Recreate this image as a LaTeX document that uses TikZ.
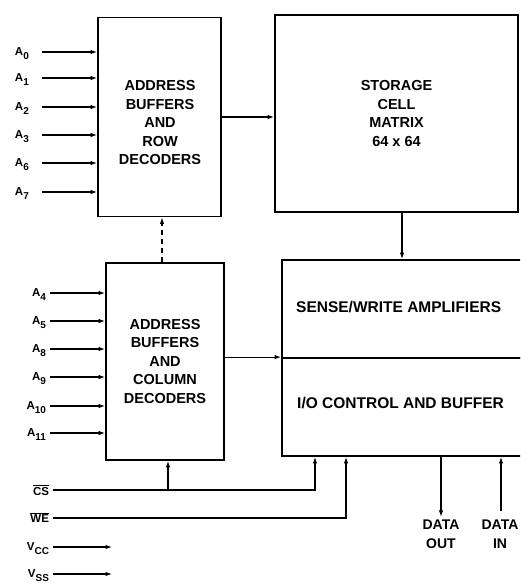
\documentclass[tikz,border=0pt]{standalone}
\usepackage{fontspec}
\setmainfont{Liberation Sans}
\usetikzlibrary{arrows.meta}
\newcommand\sigsub[2]{#1\raisebox{-3.5pt}{\fontsize{10}{10}\selectfont\bfseries #2}}
\begin{document}
\begin{tikzpicture}[x=1pt,y=-1pt,
  blk/.style={draw, line width=1.8pt, inner sep=0pt, font=\fontsize{14.5}{18.5}\selectfont\bfseries, align=center},
  lbl/.style={font=\fontsize{11.5}{11.5}\selectfont\bfseries, inner sep=0pt, outer sep=4pt, text depth=0pt},
  wire/.style={line width=1.1pt, -{Latex[length=6.5pt,width=4.5pt]}},
  bot/.style={font=\fontsize{14}{18.5}\selectfont\bfseries, align=center, inner sep=0pt, outer sep=3pt}
]
\useasboundingbox (0,0) rectangle (520,587);
\clip (0,0) rectangle (520,587);
% blocks
\node[blk, minimum width=123pt, minimum height=199pt] (row) at (159.5,117) {};
\node[font=\fontsize{14.5}{18.5}\selectfont\bfseries, align=center] (rowt) at (160,123) {ADDRESS\\BUFFERS\\AND\\ROW\\DECODERS};
\node[blk, minimum width=243pt, minimum height=197pt] (stor) at (396.5,113.5) {STORAGE\\CELL\\MATRIX\\64 x 64};
\node[blk, minimum width=118pt, minimum height=197pt] (col) at (165,361.5) {ADDRESS\\BUFFERS\\AND\\COLUMN\\DECODERS};
\node[blk, minimum width=253pt, minimum height=98pt] (sense) at (408.5,309) {};
\node[blk, minimum width=253pt, minimum height=98pt] (io) at (408.5,407) {};
\node[font=\fontsize{15.5}{16}\selectfont\bfseries, anchor=west, inner sep=0pt] (senset) at (296,307) {SENSE/WRITE AMPLIFIERS};
\node[font=\fontsize{15.5}{16}\selectfont\bfseries, anchor=west, inner sep=0pt] (iot) at (297,403) {I/O CONTROL AND BUFFER};
% row address inputs
\foreach \n/\s/\y in {a0/0/52, a1/1/78, a2/2/107, a3/3/135, a6/6/163, a7/7/192}{
  \node[lbl, anchor=west, outer sep=0pt] (\n) at (15,\y) {\sigsub{A}{\s}};
  \coordinate (\n s) at (42,\y);
  \draw[wire] (\n s) -- (\n s -| row.west);
}
% column address inputs
\foreach \n/\s/\y in {a4/4/293, a5/5/321, a8/8/349, a9/9/377, a10/10/406, a11/11/433}{
  \node[lbl, anchor=east] (\n) at (50,\y) {\sigsub{A}{\s}};
  \draw[wire] (\n) -- (\n -| col.west);
}
% internal connections
\draw[wire] (row.east) -- (row.east -| stor.west);
\draw[wire] ([xshift=5.5pt]stor.south) -- ([xshift=5.5pt]stor.south |- sense.north);
\draw[wire, dash pattern=on 5pt off 4pt] ([xshift=-3pt]col.north) -- ([xshift=-3pt]col.north |- row.south);
\draw[wire] (col.east |- io.north west) -- (io.north west);
% control signals
\node[lbl, anchor=east] (cs) at (53,490) {$\overline{\mbox{CS}}$};
\node[lbl, anchor=east] (we) at (53,518) {$\overline{\mbox{WE}}$};
\coordinate (csturn) at (315,490);
\coordinate (csj) at (168,490);
\coordinate (weturn) at (346,518);
\draw[wire] (cs) -- (csturn) -- (csturn |- io.south);
\draw[wire] (csj) -- (csj |- col.south);
\draw[wire] (we) -- (weturn) -- (weturn |- io.south);
% data
\node[bot] (dout) at (441,534) {DATA\\OUT};
\node[bot] (din) at (500,534) {DATA\\IN};
\coordinate (dinx) at (501,511);
\draw[wire] (dout.north |- io.south) -- (dout.north);
\draw[wire] (dinx) -- (dinx |- io.south);
% supplies
\node[lbl, anchor=east] (vcc) at (53,547) {\sigsub{V}{CC}};
\node[lbl, anchor=east] (vss) at (53,574) {\sigsub{V}{SS}};
\coordinate (vccend) at (112,547);
\coordinate (vssend) at (112,574);
\draw[wire] (vcc) -- (vccend);
\draw[wire] (vss) -- (vssend);
\end{tikzpicture}
\end{document}
